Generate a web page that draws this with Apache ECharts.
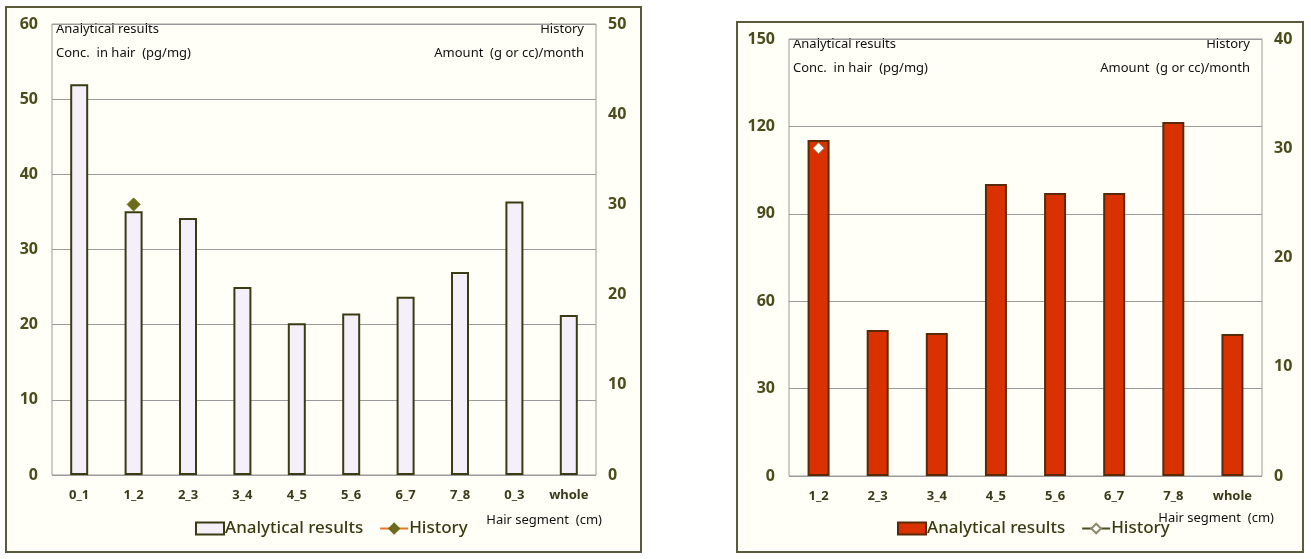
<!DOCTYPE html>
<html><head><meta charset="utf-8">
<script src="https://cdn.jsdelivr.net/npm/echarts@6/dist/echarts.min.js"></script>
<style>
html,body{margin:0;padding:0;background:#fff;width:1311px;height:559px;overflow:hidden;}
.panel{position:absolute;box-sizing:border-box;border:2px solid #5b5b3b;background:#fffff7;}
.chart{position:absolute;left:0;top:0;}
</style></head>
<body>
<div class="panel" style="left:5px;top:6px;width:637px;height:547px;"><div id="c1" class="chart" style="width:633px;height:543px;"></div></div>
<div class="panel" style="left:736px;top:21px;width:568px;height:532px;"><div id="c2" class="chart" style="width:564px;height:528px;"></div></div>
<script>
const leftCategories = ['0_1','1_2','2_3','3_4','4_5','5_6','6_7','7_8','0_3','whole'];
const leftConc = [52, 35.1, 34.2, 25.0, 20.2, 21.5, 23.7, 27.0, 36.4, 21.3];
const leftHistory = [null, 30, null, null, null, null, null, null, null, null];

const rightCategories = ['1_2','2_3','3_4','4_5','5_6','6_7','7_8','whole'];
const rightConc = [115.3, 50.1, 49.1, 100.2, 97.1, 97.1, 121.5, 48.7];
const rightHistory = [30, null, null, null, null, null, null, null];

const FONT = '"Noto Sans", "Open Sans", sans-serif';
const AX = '#4b4b1b';

function makeOption(cfg) {
  return {
    animation: false,
    textStyle: {fontFamily: FONT},
    grid: {left: cfg.grid[0], top: cfg.grid[1], right: cfg.grid[2], bottom: cfg.grid[3], show: true, borderColor: '#9a9a9a', borderWidth: 1},
    legend: {
      data: [{name: 'Analytical results', icon: 'rect'}, {name: 'History'}],
      bottom: cfg.legendBottom, left: cfg.legendLeft,
      itemWidth: 28, itemHeight: 12, itemGap: 16,
      textStyle: {fontSize: 17, color: '#3b3b13', fontWeight: 500, fontFamily: FONT, padding: [0,0,0,-4]}
    },
    xAxis: {
      type: 'category', data: cfg.categories,
      axisLine: {show: false}, axisTick: {show: false},
      axisLabel: {fontSize: 13, fontWeight: 'bold', color: '#3b3b1b', margin: 14}
    },
    yAxis: [
      {type: 'value', min: 0, max: cfg.lmax, interval: cfg.linterval,
       axisLine: {show: false}, axisTick: {show: false},
       axisLabel: {fontSize: 16, fontWeight: 'bold', color: AX, margin: 14},
       splitLine: {lineStyle: {color: '#9a9a9a', width: 1}}},
      {type: 'value', min: 0, max: cfg.rmax, interval: 10,
       axisLine: {show: false}, axisTick: {show: false},
       axisLabel: {fontSize: 16, fontWeight: 'bold', color: AX, margin: 12},
       splitLine: {show: false}}
    ],
    graphic: [
      {type: 'text', left: cfg.grid[0] + 4, top: cfg.grid[1] - 1, style: {text: 'Analytical results', font: '13px ' + FONT, fill: '#111'}},
      {type: 'text', left: cfg.grid[0] + 4, top: cfg.grid[1] + 23, style: {text: 'Conc.  in hair  (pg/mg)', font: '13px ' + FONT, fill: '#111'}},
      {type: 'text', right: cfg.grid[2] + 12, top: cfg.grid[1] - 1, style: {text: 'History', font: '13px ' + FONT, fill: '#111', align: 'right'}},
      {type: 'text', right: cfg.grid[2] + 12, top: cfg.grid[1] + 23, style: {text: 'Amount  (g or cc)/month', font: '13px ' + FONT, fill: '#111', align: 'right'}},
      {type: 'text', right: cfg.segRight, bottom: cfg.segBottom, style: {text: 'Hair segment  (cm)', font: '13px ' + FONT, fill: '#111', align: 'right'}}
    ],
    series: [
      {name: 'Analytical results', type: 'bar', data: cfg.conc, barWidth: cfg.barWidth,
       itemStyle: {color: cfg.barColor, borderColor: cfg.barBorder, borderWidth: 2}},
      {name: 'History', type: 'line', yAxisIndex: 1, data: cfg.history,
       symbol: 'diamond', symbolSize: cfg.symSize, connectNulls: false,
       lineStyle: {color: cfg.lineColor, width: 3},
       itemStyle: {color: cfg.symColor, borderColor: cfg.symBorder, borderWidth: 1}}
    ]
  };
}

const c1 = echarts.init(document.getElementById('c1'));
c1.setOption(makeOption({
  categories: leftCategories, conc: leftConc, history: leftHistory,
  grid: [45, 16, 44, 76], lmax: 60, linterval: 10, rmax: 50,
  barWidth: 18, barColor: '#f4eff9', barBorder: '#3b3b13',
  lineColor: '#e8762a', symColor: '#6b6b1b', symBorder: '#6b6b1b', symSize: 13,
  legendBottom: 9, legendLeft: 183, segRight: 38, segBottom: 24
}));

const c2 = echarts.init(document.getElementById('c2'));
c2.setOption(makeOption({
  categories: rightCategories, conc: rightConc, history: rightHistory,
  grid: [51, 16, 40, 75], lmax: 150, linterval: 30, rmax: 40,
  barWidth: 22, barColor: '#d93200', barBorder: '#5a2a06',
  lineColor: '#4b4b1b', symColor: '#ffffff', symBorder: '#8a8a6a', symSize: 11,
  legendBottom: 9, legendLeft: 154, segRight: 28, segBottom: 26
}));
</script>
</body></html>
